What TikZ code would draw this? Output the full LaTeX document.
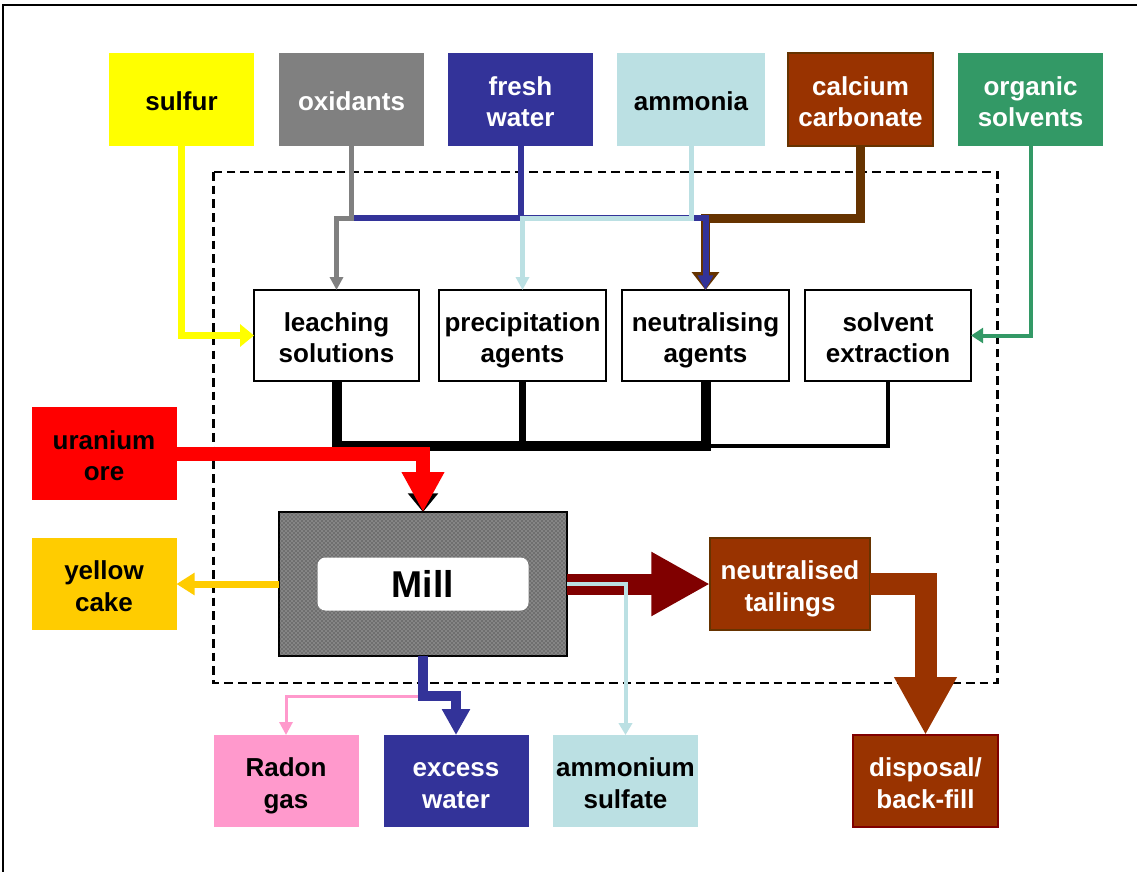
\documentclass[tikz,border=0pt]{standalone}
\usepackage{fontspec}
\setmainfont{Liberation Sans}
\usetikzlibrary{arrows.meta,patterns}
\definecolor{cYel}{HTML}{FFFF00}
\definecolor{cGray}{HTML}{808080}
\definecolor{cNavy}{HTML}{333399}
\definecolor{cLBlue}{HTML}{BBE0E3}
\definecolor{cCalc}{HTML}{993300}
\definecolor{cCalcB}{HTML}{663300}
\definecolor{cGreen}{HTML}{339966}
\definecolor{cRed}{HTML}{FF0000}
\definecolor{cYC}{HTML}{FFCC00}
\definecolor{cPink}{HTML}{FF99CC}
\definecolor{cDRed}{HTML}{800000}
\newcommand\tstr{\rule{0pt}{21.5pt}}
\newcommand\bstr{\rule[-4.5pt]{0pt}{4.5pt}}
\begin{document}
\begin{tikzpicture}[x=0.75pt,y=-0.75pt,
  box/.style={inner sep=0pt, outer sep=0pt, align=center,
    font=\fontsize{19.5}{23.5}\selectfont\bfseries},
  sz/.style 2 args={minimum width=#1*0.75pt, minimum height=#2*0.75pt},
  proc/.style={box, draw=black, line width=1.5pt, fill=white, sz={165}{91}},
  src/.style={box, sz={145}{93}},
  dst/.style={box, sz={145}{92}},
  wtxt/.style={text=white},
  btxt/.style={text=black}]
\useasboundingbox (0,0) rectangle (1137,871);
\clip (0,0) rectangle (1137,871);
\fill[white] (0,0) rectangle (1137,871);
\draw[line width=2pt] (3,5) rectangle (1150,890);
\draw[line width=2pt, dash pattern=on 6.5pt off 3.8pt] (213.5,172) rectangle (997.5,683);

% source boxes
\node[src, fill=cYel, btxt] (sulfur) at (181.5,99.5) {\tstr sulfur\bstr};
\node[src, fill=cGray, wtxt] (oxid) at (351.5,99.5) {\tstr oxidants\bstr};
\node[src, fill=cNavy, wtxt] (fresh) at (520.5,99.5) {\tstr fresh\\water\bstr};
\node[src, fill=cLBlue, btxt, sz={148}{93}] (ammonia) at (691,99.5) {\tstr ammonia\bstr};
\node[src, fill=cCalc, draw=cCalcB, line width=1pt, wtxt] (calc) at (860.5,99.5) {\tstr calcium\\carbonate\bstr};
\node[src, fill=cGreen, wtxt] (org) at (1030.5,99.5) {\tstr organic\\solvents\bstr};

% process boxes
\node[proc] (leach) at (336.5,335.5) {\tstr leaching\\solutions\bstr};
\node[proc, sz={167}{91}] (precip) at (522.5,335.5) {\tstr precipitation\\agents\bstr};
\node[proc, sz={167}{91}] (neutr) at (705.5,335.5) {\tstr neutralising\\agents\bstr};
\node[proc, sz={166}{91}] (solv) at (888,335.5) {\tstr solvent\\extraction\bstr};

% left side
\node[src, fill=cRed, btxt] (uran) at (104,453.5) {\tstr uranium\\ore\bstr};
\node[dst, fill=cYC, btxt] (yc) at (104,584) {\tstr yellow\\cake\bstr};

% mill
\node[inner sep=0pt, outer sep=0pt, sz={288}{144}, draw=black, line width=1.5pt, fill=black!48,
  postaction={pattern=crosshatch dots, pattern color=black!85}] (mill) at (423,584) {};
\node[inner sep=0pt, outer sep=0pt, sz={211}{53}, fill=white, rounded corners=6pt,
  font=\fontsize{28}{32}\selectfont\bfseries] (milllabel) at (mill.center) {Mill};

\node[dst, sz={160}{92}, fill=cCalc, draw=cCalcB, line width=1pt, wtxt] (tail) at (790,584) {\tstr neutralised\\tailings\bstr};

% bottom
\node[dst, fill=cPink, btxt] (radon) at (286,781) {\tstr Radon\\gas\bstr};
\node[dst, fill=cNavy, wtxt] (excess) at (456,781) {\tstr excess\\water\bstr};
\node[dst, fill=cLBlue, btxt] (amms) at (625.5,781) {\tstr ammonium\\sulfate\bstr};
\node[dst, fill=cCalc, draw=cDRed, line width=1pt, wtxt] (disp) at (925.5,781) {\tstr disposal/\\back-fill\bstr};

\coordinate (bY) at (0,218);
\coordinate (bus) at (0,446);
\coordinate (mjY) at (0,696);

% top connectors
\draw[cCalcB, line width=6.75pt, -{Triangle[length=13.5pt,width=20pt]}]
  (calc.south) |- (neutr.north |- bY) -- (neutr.north);
\draw[cNavy, line width=4.5pt, -{Triangle[length=11pt,width=11pt]}]
  (fresh.south) |- (neutr.north |- bY) -- (neutr.north);
\draw[cNavy, line width=4.5pt] (fresh.south |- bY) -- (oxid.south |- bY);
\draw[cGray, line width=3.75pt, -{Triangle[length=9.75pt,width=9.75pt]}]
  (oxid.south) |- (leach.north |- bY) -- (leach.north);
\draw[cLBlue, line width=3.75pt, -{Triangle[length=9.75pt,width=9.75pt]}]
  (ammonia.south) |- (precip.north |- bY) -- (precip.north);
\draw[cYel, line width=5.25pt, -{Triangle[length=10.5pt,width=16.5pt]}]
  (sulfur.south) |- (leach.west);
\draw[cGreen, line width=3pt, -{Triangle[length=9pt,width=11pt]}]
  (org.south) |- (solv.east);

% black bus
\draw[black, line width=7.5pt] (leach.south) |- (neutr.south |- bus) -- (neutr.south);
\draw[black, line width=5.25pt] (precip.south) -- (precip.south |- bus);
\draw[black, line width=3pt] (solv.south) |- (neutr.south |- bus);
\draw[black, line width=4pt, -{Triangle[length=14pt,width=22pt]}] (mill.north |- bus) -- (mill.north);

% ore
\draw[cRed, line width=10.5pt, -{Triangle[length=30pt,width=30pt]}] (uran.east) -| (mill.north);

% outputs
\draw[cYC, line width=5.25pt, -{Triangle[length=13.5pt,width=16pt]}] (mill.west) -- (yc.east);
\draw[cDRed, line width=15.75pt, -{Triangle[length=44pt,width=45pt]}] (mill.east) -- (tail.west);
\draw[cLBlue, line width=3pt, -{Triangle[length=9pt,width=10pt]}] (mill.east) -| (amms.north);
\draw[cCalc, line width=16.5pt, -{Triangle[length=43.5pt,width=44pt]}] (tail.east) -| (disp.north);
\draw[cPink, line width=2.25pt, -{Triangle[length=9.75pt,width=9.75pt]}] (mill.south |- mjY) -| (radon.north);
\draw[cNavy, line width=7.5pt, -{Triangle[length=19.5pt,width=20pt]}]
  (mill.south) |- (excess.north |- mjY) -- (excess.north);
\end{tikzpicture}
\end{document}
